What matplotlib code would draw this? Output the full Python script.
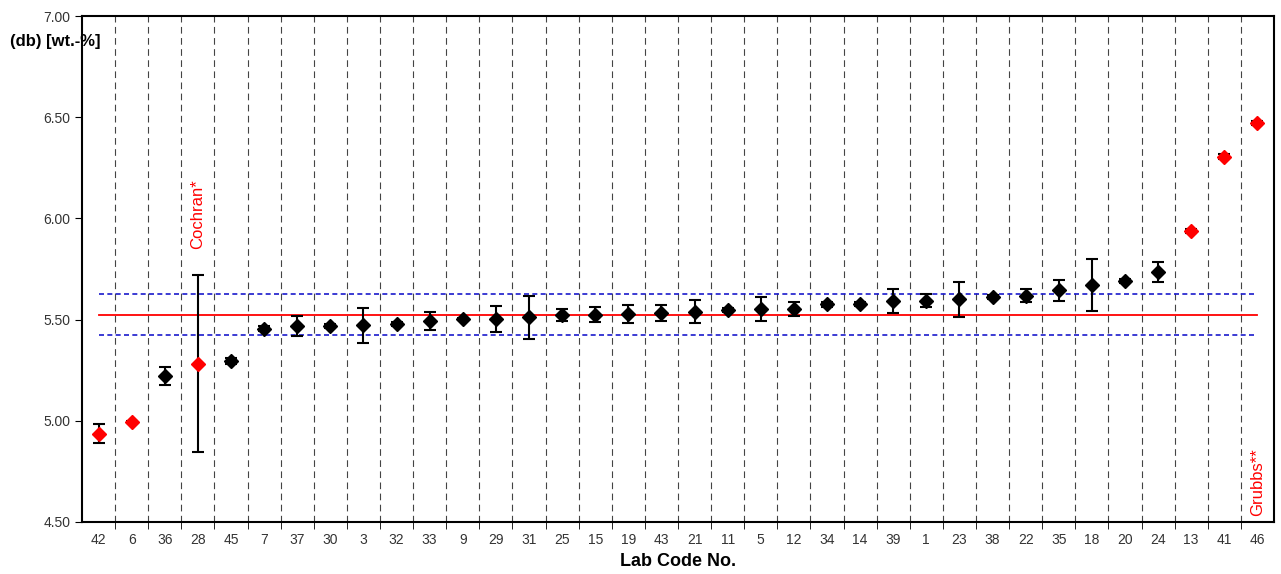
import matplotlib.pyplot as plt
import numpy as np

plt.rcParams['font.family'] = ['Liberation Sans', 'DejaVu Sans']

# =============================================================================
# Data
labs = ['42', '6', '36', '28', '45', '7', '37', '30', '3', '32', '33', '9',
        '29', '31', '25', '15', '19', '43', '21', '11', '5', '12', '34', '14',
        '39', '1', '23', '38', '22', '35', '18', '20', '24', '13', '41', '46']
means = [4.936, 4.995, 5.223, 5.283, 5.297, 5.455, 5.470, 5.470, 5.472, 5.480,
         5.495, 5.502, 5.503, 5.512, 5.523, 5.525, 5.528, 5.533, 5.540, 5.548,
         5.551, 5.553, 5.576, 5.578, 5.592, 5.594, 5.600, 5.612, 5.619, 5.645,
         5.671, 5.691, 5.735, 5.938, 6.304, 6.472]
errs = [0.046, 0.006, 0.045, 0.438, 0.015, 0.012, 0.050, 0.010, 0.087, 0.010,
        0.045, 0.006, 0.065, 0.107, 0.029, 0.039, 0.043, 0.040, 0.057, 0.010,
        0.060, 0.035, 0.012, 0.010, 0.057, 0.033, 0.086, 0.012, 0.030, 0.053,
        0.127, 0.012, 0.049, 0.012, 0.012, 0.010]
outliers = ['42', '6', '28', '13', '41', '46']
grand_mean = 5.525
sd_limit = 0.103

# =============================================================================
f, ax = plt.subplots(figsize=(12.81, 5.74), dpi=100)
f.subplots_adjust(left=0.064, right=0.9945, bottom=0.0906, top=0.972)

x = np.arange(len(labs))
ax.set_xlim(-0.5, len(labs) - 0.5)
ax.set_ylim(4.5, 7.0)

# vertical separators between labs
for b in x[:-1] + 0.5:
    ax.axvline(b, color='#444444', lw=0.8, ls=(0, (6, 4)), zorder=1)

ax.plot([x[0], x[-1]], [grand_mean] * 2, color='red', lw=1.3, zorder=2)
ax.plot([x[0], x[-1]], [grand_mean + sd_limit] * 2, color='#1a1acc', lw=1.2,
        ls=(0, (3, 2)), zorder=2)
ax.plot([x[0], x[-1]], [grand_mean - sd_limit] * 2, color='#1a1acc', lw=1.2,
        ls=(0, (3, 2)), zorder=2)

for xi, lab, m, e in zip(x, labs, means, errs):
    c = 'red' if lab in outliers else 'black'
    ax.errorbar(xi, m, yerr=e, fmt='none', ecolor='black', elinewidth=1.5,
                capsize=4, capthick=1.5, zorder=3)
    ax.plot(xi, m, marker='D', ms=7, color=c, mec=c, ls='none', zorder=4)

ax.text(x[labs.index('28')], 6.02, 'Cochran*', color='red', rotation=90,
        ha='center', va='center', fontsize=12)
ax.text(x[labs.index('46')], 4.53, 'Grubbs**', color='red', rotation=90,
        ha='center', va='bottom', fontsize=12)

ax.set_xticks(x)
ax.set_xticklabels(labs)
ax.set_xticks(x[:-1] + 0.5, minor=True)
ax.tick_params(axis='x', which='major', length=0, pad=8, labelsize=10,
               labelcolor='#333333')
ax.tick_params(axis='x', which='minor', length=5, direction='out')
ax.set_yticks(np.arange(4.5, 7.01, 0.5))
ax.set_yticklabels([f'{v:.2f}' for v in np.arange(4.5, 7.01, 0.5)])
ax.tick_params(axis='y', length=5, labelsize=10, labelcolor='#333333')

for s in ax.spines.values():
    s.set_linewidth(1.5)

ax.set_xlabel('Lab Code No.', fontsize=13, fontweight='bold', labelpad=4)
f.text(0.008, 0.928, '(db) [wt.-%]', fontsize=12, fontweight='bold',
       ha='left', va='center')

plt.savefig('out.png', dpi=100)
